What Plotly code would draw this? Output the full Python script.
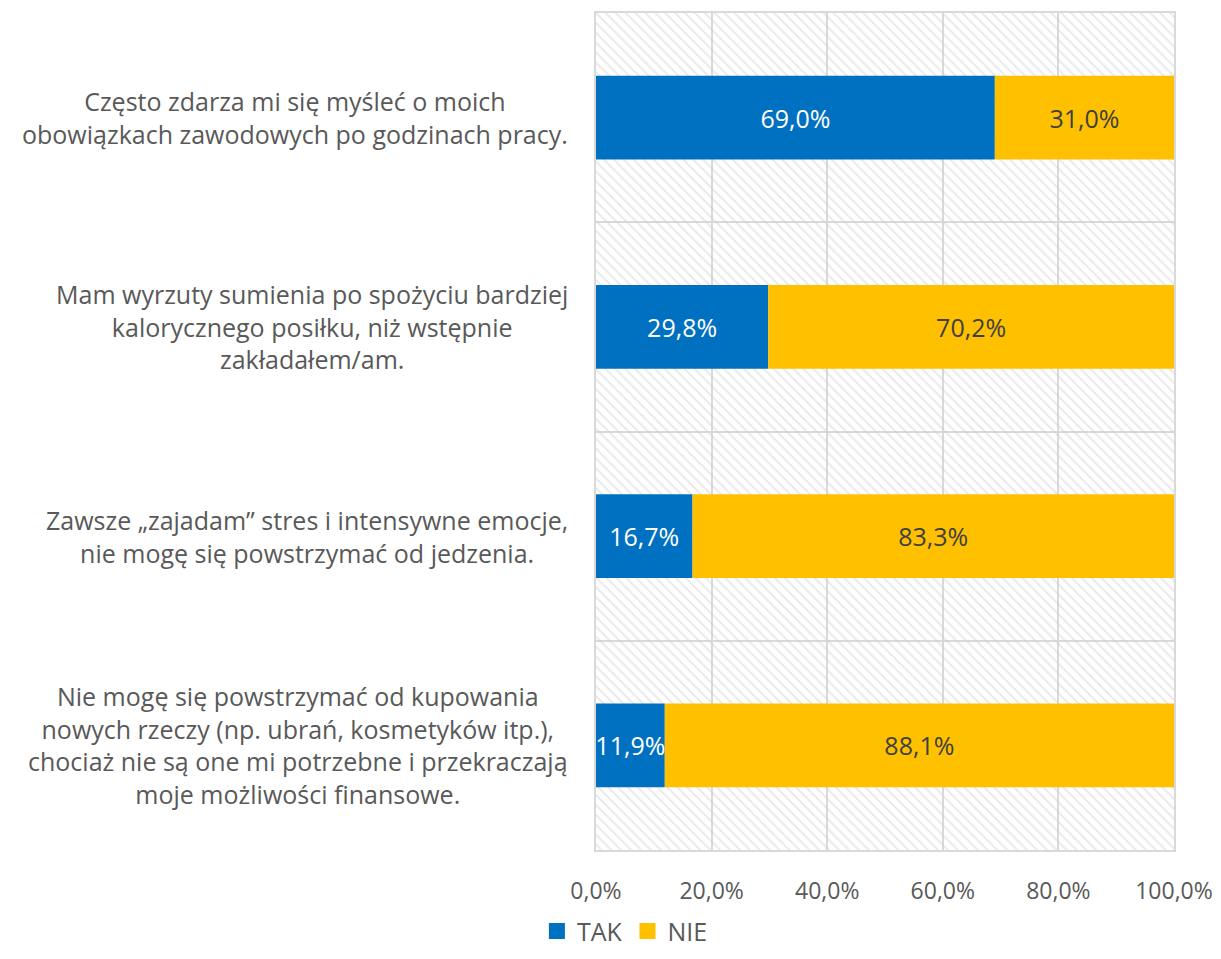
import plotly.graph_objects as go

categories = [
    "Często zdarza mi się myśleć o moich<br>obowiązkach zawodowych po godzinach pracy.",
    "Mam wyrzuty sumienia po spożyciu bardziej<br>kalorycznego posiłku, niż wstępnie<br>zakładałem/am.",
    "Zawsze „zajadam” stres i intensywne emocje,<br>nie mogę się powstrzymać od jedzenia.",
    "Nie mogę się powstrzymać od kupowania<br>nowych rzeczy (np. ubrań, kosmetyków itp.),<br>chociaż nie są one mi potrzebne i przekraczają<br>moje możliwości finansowe.",
]
cat_ids = ["c1", "c2", "c3", "c4"]
tak = [69.0, 29.8, 16.7, 11.9]
nie = [31.0, 70.2, 83.3, 88.1]
x_ticks = [0, 20, 40, 60, 80, 100]
x_tick_labels = ["0,0%", "20,0%", "40,0%", "60,0%", "80,0%", "100,0%"]
series_names = ["TAK", "NIE"]
series_colors = ["#0070C0", "#FFC000"]

FONT = "Open Sans"
GREY = "#595959"
GRID = "#d9d9d9"
FS = 25

fig = go.Figure()

# hatched plot-area background
fig.add_trace(go.Bar(
    y=cat_ids, x=[100] * len(cat_ids), base=0, orientation="h", width=1,
    marker=dict(color="rgba(0,0,0,0)", line=dict(width=0),
                pattern=dict(shape="\\", fgcolor="#d0d0d0", bgcolor="rgba(0,0,0,0)",
                             size=7, solidity=0.25)),
    showlegend=False, hoverinfo="skip",
))

fig.add_trace(go.Bar(
    name=series_names[0], y=cat_ids, x=tak, base=0, orientation="h", width=0.4,
    marker=dict(color=series_colors[0], line=dict(width=0)),
    texttemplate="%{x:.1f}%", textposition="inside", insidetextanchor="middle",
    textangle=0, textfont=dict(color="white", size=FS, family=FONT), constraintext="none",
    hoverinfo="skip", showlegend=False,
))
fig.add_trace(go.Bar(
    name=series_names[1], y=cat_ids, x=nie, base=tak, orientation="h", width=0.4,
    marker=dict(color=series_colors[1], line=dict(width=0)),
    texttemplate="%{x:.1f}%", textposition="inside", insidetextanchor="middle",
    textangle=0, textfont=dict(color="#404040", size=FS, family=FONT), constraintext="none",
    hoverinfo="skip", showlegend=False,
))

# legend entries with larger square swatches
for name, color in zip(series_names, series_colors):
    fig.add_trace(go.Scatter(
        x=[None], y=[None], mode="markers", name=name,
        marker=dict(symbol="square", size=17, color=color),
    ))

for cid, label in zip(cat_ids, categories):
    fig.add_annotation(
        x=0, xref="paper", y=cid, yref="y", text=label, showarrow=False,
        xanchor="right", align="center", xshift=-26,
        font=dict(size=FS, color=GREY, family=FONT),
    )

fig.update_layout(
    width=1213, height=951,
    margin=dict(l=588, r=47, t=5, b=109, autoexpand=False),
    barmode="overlay",
    separators=",.",
    plot_bgcolor="white", paper_bgcolor="white",
    font=dict(family=FONT, color=GREY, size=FS),
    legend=dict(orientation="h", x=0.05, xanchor="center", y=-0.097, yanchor="middle",
                font=dict(size=FS, color=GREY, family=FONT), traceorder="normal",
                itemwidth=30),
    xaxis=dict(range=[0, 100], tickvals=x_ticks, ticktext=x_tick_labels,
               showgrid=True, gridcolor=GRID, gridwidth=2, zeroline=False,
               showline=True, linecolor=GRID, linewidth=2, mirror=True,
               ticks="", tickfont=dict(size=23, color=GREY, family=FONT), ticklabelstandoff=19),
    yaxis=dict(type="category", categoryorder="array", categoryarray=cat_ids,
               autorange="reversed", tickson="boundaries", showgrid=True,
               gridcolor=GRID, gridwidth=2, showticklabels=False, ticks="",
               showline=True, linecolor=GRID, linewidth=2, mirror=True),
)

fig.write_html("out.html")
